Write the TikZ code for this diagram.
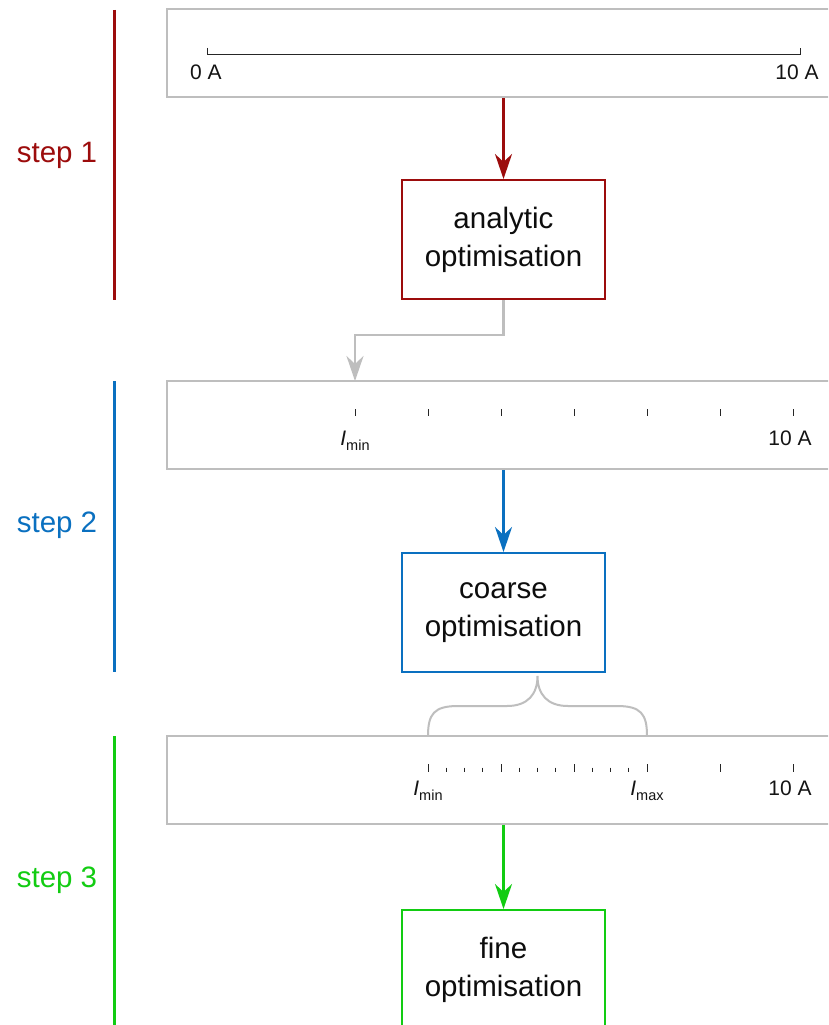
\documentclass[tikz,border=0pt]{standalone}
\usepackage{fontspec}
\setmainfont{Liberation Sans}
\usetikzlibrary{arrows.meta}
\definecolor{cred}{HTML}{9C0C0C}
\definecolor{cblue}{HTML}{0A70C0}
\definecolor{cgreen}{HTML}{12CC12}
\definecolor{cgray}{HTML}{BEBEBE}
\newcommand{\Isub}[1]{\textit{I}\raisebox{-5pt}{\fontsize{14.5}{15}\selectfont #1}}
\begin{document}
\begin{tikzpicture}[x=1pt,y=-1pt,
  scalebox/.style={draw=cgray,line width=2pt,minimum width=733pt,minimum height=88pt,inner sep=0pt},
  optbox/.style={draw=#1,line width=2pt,minimum width=203pt,minimum height=119pt,align=center,
    font=\fontsize{29.5}{38}\selectfont,text=black!95},
  steplabel/.style={text=#1,font=\fontsize{29.5}{36}\selectfont},
  stepbar/.style={draw=#1,line width=3pt},
  flowarrow/.style={draw=#1,line width=2.5pt,-{Stealth[length=25pt,width=17pt,inset=8pt]}},
  tick/.style={line width=1pt,black!85},
  ticklabel/.style={anchor=base,inner sep=0pt,font=\fontsize{21}{24}\selectfont,text=black!92},
]
\clip (0,0) rectangle (828,1025);
\fill[white] (0,0) rectangle (828,1025);

% step bars and labels
\draw[stepbar=cred] (114,10) -- (114,300);
\draw[stepbar=cblue] (114,381) -- (114,672);
\draw[stepbar=cgreen] (114,736) -- (114,1030);
\node[steplabel=cred] (l1) at (57,155) {step 1};
\node[steplabel=cblue] (l2) at (57,525) {step 2};
\node[steplabel=cgreen] (l3) at (57,880) {step 3};

% scale boxes
\node[scalebox] (s1) at (533.5,53) {};
\node[scalebox] (s2) at (533.5,425) {};
\node[scalebox] (s3) at (533.5,780) {};

% optimisation boxes
\node[optbox=cred] (a1) at (503.5,239.5) {analytic\\optimisation};
\node[optbox=cblue] (a2) at (503.5,612.5) {coarse\\optimisation};
\node[optbox=cgreen] (a3) at (503.5,969.5) {fine\\optimisation};

% step 1 scale
\draw[tick] (207,48) -- (207,55) -- (800,55) -- (800,48);
\node[ticklabel] (z1) at (206,80) {0 A};
\node[ticklabel] (m1) at (797,80) {10 A};

% step 2 scale
\foreach \k in {0,...,6} {\draw[tick] ({355+73*\k},409) -- ({355+73*\k},416);}
\node[ticklabel] (i2) at (355,445) {\Isub{min}};
\node[ticklabel] (m2) at (790,445) {10 A};

% step 3 scale
\foreach \k in {0,...,5} {\draw[tick] ({428+73*\k},764) -- ({428+73*\k},772);}
\foreach \k in {1,2,3,5,6,7,9,10,11} {\draw[tick] ({428+18.25*\k},767.5) -- ({428+18.25*\k},772);}
\node[ticklabel] (i3) at (428,795) {\Isub{min}};
\node[ticklabel] (x3) at (647,795) {\Isub{max}};
\node[ticklabel] (m3) at (790,795) {10 A};

% arrows
\draw[flowarrow=cred] (a1.north |- s1.south) -- (a1.north);
\coordinate (t2) at (355,381);
\draw[flowarrow=cgray] (a1.south) -- ++(0,35) -| (t2);
\draw[flowarrow=cblue] (a2.north |- s2.south) -- (a2.north);
\draw[flowarrow=cgreen] (a3.north |- s3.south) -- (a3.north);

% brace
\coordinate (bl) at (428,736);
\coordinate (br) at (647,736);
\coordinate (bt) at (537.5,676);
\draw[cgray,line width=2pt]
  (bl) .. controls (428,714) and (434,706) .. (458,706) -- (507,706)
       .. controls (528,706) and (537.5,694) .. (bt)
       .. controls (537.5,694) and (547,706) .. (568,706) -- (617,706)
       .. controls (641,706) and (647,714) .. (br);
\end{tikzpicture}
\end{document}
